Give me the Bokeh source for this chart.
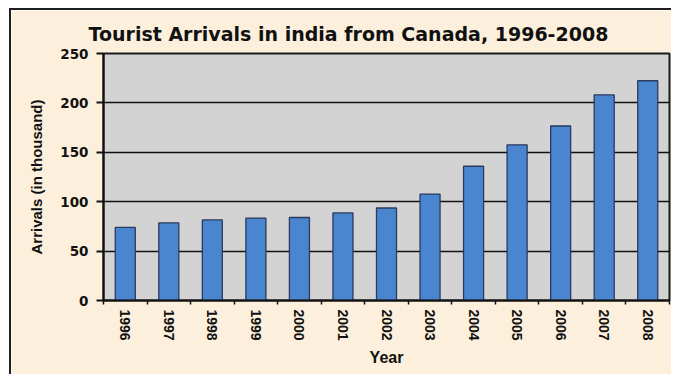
from bokeh.plotting import figure
from bokeh.models import LinearAxis, Range1d, FixedTicker, ColumnDataSource
from bokeh.embed import file_html
from bokeh.resources import INLINE

years = ["1996", "1997", "1998", "1999", "2000", "2001", "2002",
         "2003", "2004", "2005", "2006", "2007", "2008"]
arrivals = [74.0, 78.6, 81.6, 83.4, 84.0, 88.6, 93.6,
            107.7, 135.9, 157.6, 176.6, 208.2, 222.4]
y_ticks = [0, 50, 100, 150, 200, 250]

BEIGE = "#fcf0dc"
GRAY = "#d3d3d3"
BLUE = "#4a86d0"

n = len(years)
centers = [i + 0.5 for i in range(n)]
edges = list(range(n + 1))
src = ColumnDataSource(dict(x=centers, top=arrivals, year=years))

p = figure(width=662, height=366, x_range=Range1d(0, n), y_range=(0, 250),
           output_backend="svg", toolbar_location=None,
           x_axis_location=None, y_axis_location=None,
           min_border_left=92, min_border_right=4,
           min_border_top=43, min_border_bottom=76)
p.margin = (8, 0, 0, 9)
p.styles = {"border-top": "2px solid #1e1e1e", "border-left": "2px solid #1e1e1e"}

p.border_fill_color = BEIGE
p.background_fill_color = GRAY
p.outline_line_color = "#1a1a1a"
p.outline_line_width = 2

p.title.text = "Tourist Arrivals in india from Canada, 1996-2008"
p.title.text_font = "DejaVu Sans"
p.title.text_font_style = "bold"
p.title.text_font_size = "19px"
p.title.text_color = "#111111"
p.title.align = "left"
p.title.offset = -15
p.title.standoff = 18

# y axis
yax = LinearAxis(ticker=FixedTicker(ticks=y_ticks))
yax.axis_line_color = "#111111"
yax.axis_line_width = 2
yax.major_tick_out = 7
yax.major_tick_in = 0
yax.major_tick_line_width = 2
yax.major_tick_line_color = "#111111"
yax.minor_tick_line_color = None
yax.major_label_text_font = "DejaVu Sans"
yax.major_label_text_font_style = "bold"
yax.major_label_text_font_size = "13.5px"
yax.major_label_text_color = "#111111"
yax.major_label_standoff = 8
yax.axis_label = "Arrivals (in thousand)"
yax.axis_label_text_font = "Liberation Sans"
yax.axis_label_text_font_style = "bold"
yax.axis_label_text_font_size = "15px"
yax.axis_label_text_color = "#111111"
yax.axis_label_standoff = 12
p.add_layout(yax, "left")

# x axis: labels at bar centres, tick marks between categories
xax = LinearAxis(ticker=FixedTicker(ticks=centers, minor_ticks=edges))
xax.major_label_overrides = {c: y for c, y in zip(centers, years)}
xax.axis_line_color = "#111111"
xax.axis_line_width = 2
xax.major_tick_line_color = None
xax.major_tick_out = 0
xax.major_tick_in = 0
xax.minor_tick_line_color = "#111111"
xax.minor_tick_line_width = 1.5
xax.minor_tick_out = 4
xax.minor_tick_in = 0
xax.major_label_orientation = "vertical"
xax.major_label_text_font = "Liberation Sans"
xax.major_label_text_font_style = "bold"
xax.major_label_text_font_size = "14px"
xax.major_label_text_color = "#111111"
xax.major_label_standoff = 5
xax.axis_label = "Year"
xax.axis_label_text_font = "Liberation Sans"
xax.axis_label_text_font_style = "bold"
xax.axis_label_text_font_size = "16px"
xax.axis_label_text_color = "#111111"
xax.axis_label_standoff = 5
p.add_layout(xax, "below")

p.xgrid.grid_line_color = None
p.ygrid.ticker = FixedTicker(ticks=y_ticks)
p.ygrid.grid_line_color = "#111111"
p.ygrid.grid_line_width = 1.6

p.vbar(x="x", top="top", width=0.46, bottom=0, source=src,
       fill_color=BLUE, line_color="#2a3a5c", line_width=1.3)

open("out.html", "w").write(file_html(p, INLINE))
